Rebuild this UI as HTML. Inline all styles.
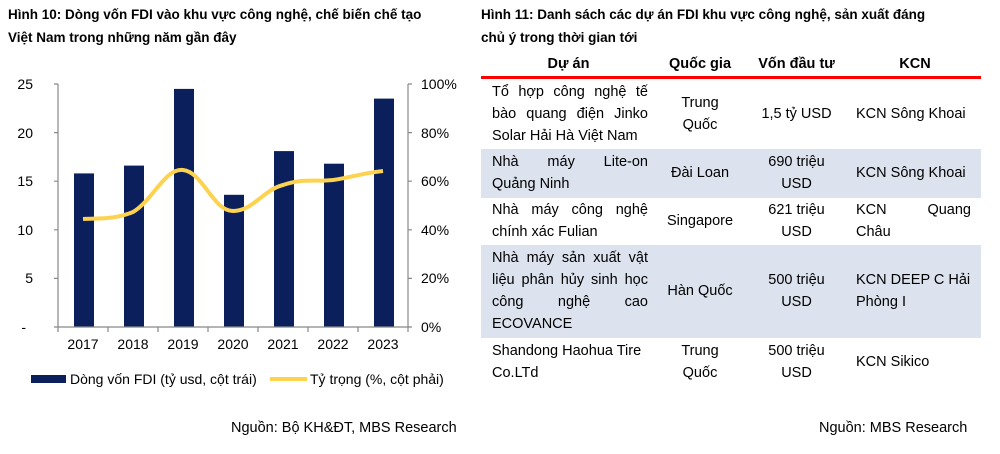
<!DOCTYPE html>
<html><head><meta charset="utf-8"><style>
body{margin:0;width:1000px;height:454px;background:#fff;font-family:"Liberation Sans",Arial,sans-serif;color:#000;position:relative;overflow:hidden}
.t{position:absolute;font-weight:bold;font-size:13.5px;line-height:23px}
.a{position:absolute;font-size:14.5px}
table{position:absolute;left:481px;top:52px;width:500px;border-collapse:collapse;font-size:14.5px;line-height:22px;table-layout:fixed}
th{font-weight:bold;height:24px;padding:0;border-bottom:3px solid #f00;vertical-align:middle;text-align:center}
td{padding:0;vertical-align:middle}
tr.s td{background:#dce3ee}
.c1{padding-left:11px;padding-right:8px;text-align:justify;text-align-last:left}
.c1 span{display:block;text-align:justify;text-align-last:justify}
.c1 span.l{text-align-last:left}
.cc{text-align:center}
.k{padding-left:7px;padding-right:10px}
</style></head><body>
<div class="t" style="left:8px;top:3px">Hình 10: Dòng vốn FDI vào khu vực công nghệ, chế biến chế tạo<br>Việt Nam trong những năm gần đây</div>
<div class="t" style="left:481px;top:3px">Hình 11: Danh sách các dự án FDI khu vực công nghệ, sản xuất đáng<br>chủ ý trong thời gian tới</div>
<svg style="position:absolute;left:0;top:0" width="480" height="454" font-family="Liberation Sans,Arial,sans-serif" font-size="14">
<g fill="#0b1f5c">
<rect x="74" y="173.4" width="20" height="153.6"/>
<rect x="124" y="165.6" width="20" height="161.4"/>
<rect x="174" y="88.9" width="20" height="238.1"/>
<rect x="224" y="194.8" width="20" height="132.2"/>
<rect x="274" y="151.1" width="20" height="175.9"/>
<rect x="324" y="163.7" width="20" height="163.3"/>
<rect x="374" y="98.6" width="20" height="228.4"/>
</g>
<g stroke="#888" stroke-width="1.2" fill="none">
<path d="M58 84V327H408V84"/>
<path d="M54 84H58M54 132.6H58M54 181.2H58M54 229.8H58M54 278.4H58M54 327H58"/>
<path d="M408 84H412M408 132.6H412M408 181.2H412M408 229.8H412M408 278.4H412M408 327H412"/>
<path d="M58 327v5M108 327v5M158 327v5M208 327v5M258 327v5M308 327v5M358 327v5M408 327v5"/>
</g>
<path d="M83 219C100 218 113 220 133 212C153 200 165 168 183 170C203 172 213 211 233 211C253 211 263 190 283 185C303 178 313 182 333 180C353 177 363 173 383 171" stroke="#fdd24e" stroke-width="4" fill="none"/>
<g text-anchor="end"><text x="33" y="89">25</text><text x="33" y="138">20</text><text x="33" y="186">15</text><text x="33" y="235">10</text><text x="33" y="283">5</text><text x="26" y="332">-</text></g>
<g><text x="421" y="89">100%</text><text x="421" y="138">80%</text><text x="421" y="186">60%</text><text x="421" y="235">40%</text><text x="421" y="283">20%</text><text x="421" y="332">0%</text></g>
<g text-anchor="middle"><text x="83" y="349">2017</text><text x="133" y="349">2018</text><text x="183" y="349">2019</text><text x="233" y="349">2020</text><text x="283" y="349">2021</text><text x="333" y="349">2022</text><text x="383" y="349">2023</text></g>
<rect x="31" y="375" width="35" height="8" fill="#0b1f5c"/>
<text x="70" y="384">Dòng vốn FDI (tỷ usd, cột trái)</text>
<path d="M270 379H307" stroke="#fdd24e" stroke-width="4"/>
<text x="310" y="384">Tỷ trọng (%, cột phải)</text>
</svg>
<table>
<colgroup><col style="width:175px"><col style="width:88px"><col style="width:105px"><col style="width:132px"></colgroup>
<tr><th>Dự án</th><th>Quốc gia</th><th>Vốn đầu tư</th><th>KCN</th></tr>
<tr style="height:71px"><td class="c1"><span>Tổ hợp công nghệ tế</span><span>bào quang điện Jinko</span><span class="l">Solar Hải Hà Việt Nam</span></td><td class="cc">Trung<br>Quốc</td><td class="cc">1,5 tỷ USD</td><td class="k">KCN Sông Khoai</td></tr>
<tr class="s" style="height:49px"><td class="c1"><span>Nhà máy Lite-on</span><span class="l">Quảng Ninh</span></td><td class="cc">Đài Loan</td><td class="cc">690 triệu<br>USD</td><td class="k">KCN Sông Khoai</td></tr>
<tr style="height:47px"><td class="c1"><span>Nhà máy công nghệ</span><span class="l">chính xác Fulian</span></td><td class="cc">Singapore</td><td class="cc">621 triệu<br>USD</td><td class="k"><span style="display:block;text-align:justify;text-align-last:justify">KCN Quang</span>Châu</td></tr>
<tr class="s" style="height:93px"><td class="c1"><span>Nhà máy sản xuất vật</span><span>liệu phân hủy sinh học</span><span>công nghệ cao</span><span class="l">ECOVANCE</span></td><td class="cc">Hàn Quốc</td><td class="cc">500 triệu<br>USD</td><td class="k">KCN DEEP C Hải<br>Phòng I</td></tr>
<tr style="height:49px"><td class="c1"><span class="l">Shandong Haohua Tire</span><span class="l">Co.LTd</span></td><td class="cc">Trung<br>Quốc</td><td class="cc">500 triệu<br>USD</td><td class="k">KCN Sikico</td></tr>
</table>
<div class="a" style="left:231px;top:420px">Nguồn: Bộ KH&amp;ĐT, MBS Research</div>
<div class="a" style="left:819px;top:420px">Nguồn: MBS Research</div>
</body></html>
